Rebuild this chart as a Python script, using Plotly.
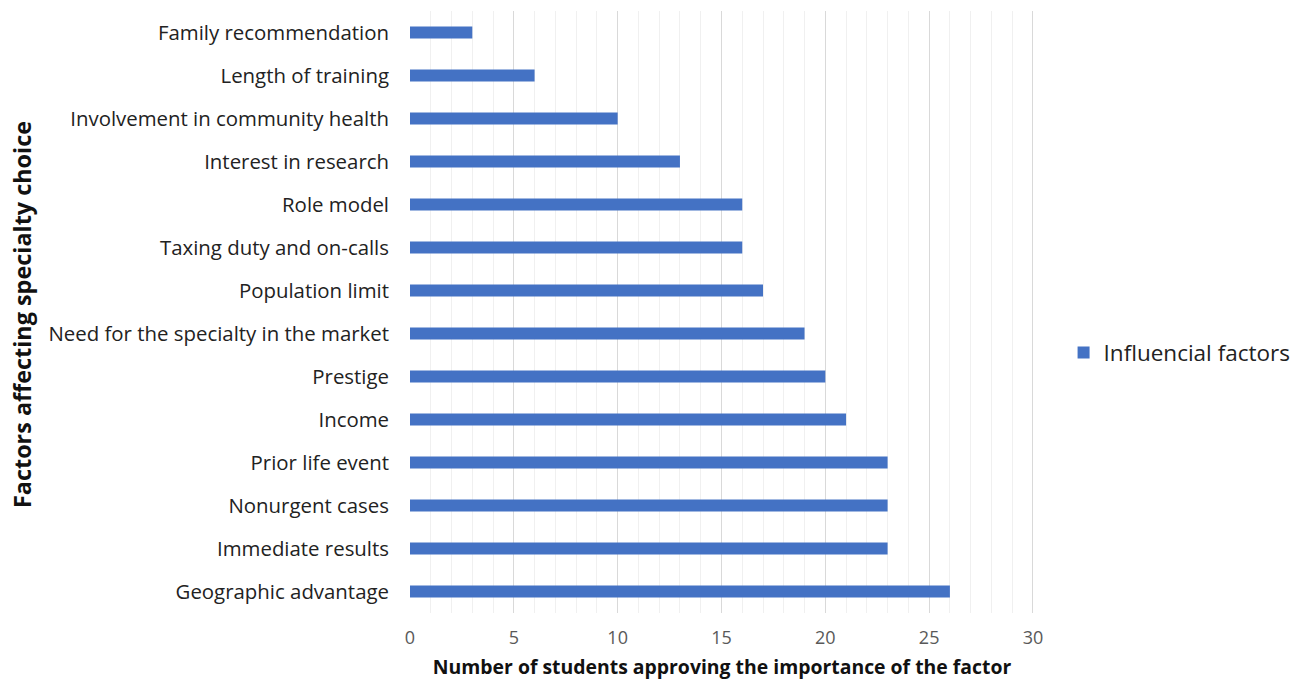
import plotly.graph_objects as go

factors = [
    "Family recommendation",
    "Length of training",
    "Involvement in community health",
    "Interest in research",
    "Role model",
    "Taxing duty and on-calls",
    "Population limit",
    "Need for the specialty in the market",
    "Prestige",
    "Income",
    "Prior life event",
    "Nonurgent cases",
    "Immediate results",
    "Geographic advantage",
]
counts = [3, 6, 10, 13, 16, 16, 17, 19, 20, 21, 23, 23, 23, 26]
series_name = "Influencial factors"
x_ticks = [0, 5, 10, 15, 20, 25, 30]

font_family = "Open Sans, Lato, sans-serif"

fig = go.Figure()
fig.add_trace(go.Bar(
    y=factors,
    x=counts,
    orientation="h",
    name=series_name,
    marker=dict(color="#4472C4", line=dict(width=0)),
    width=0.28,
    showlegend=True,
))

fig.update_layout(
    width=1300,
    height=685,
    paper_bgcolor="white",
    plot_bgcolor="white",
    margin=dict(l=410, r=266, t=11, b=72, autoexpand=False),
    font=dict(family=font_family, color="#222222"),
    showlegend=True,
    legend=dict(
        x=1.0474, xanchor="left", y=0.432, yanchor="middle",
        font=dict(size=22.5, color="#222222", family=font_family),
        itemsizing="constant",
        itemwidth=30,
        bgcolor="rgba(0,0,0,0)",
    ),
    xaxis=dict(
        range=[0, 30.05],
        tickvals=x_ticks,
        ticktext=[str(v) for v in x_ticks],
        showgrid=True,
        gridcolor="#d9d9d9",
        gridwidth=1,
        zeroline=False,
        showline=False,
        ticks="",
        ticklabelstandoff=12,
        tickfont=dict(size=18, color="#595959", family=font_family),
        minor=dict(dtick=1, tick0=0, showgrid=True, gridcolor="#f0f0f0", gridwidth=1),
        title=dict(
            text="<b>Number of students approving the importance of the factor</b>",
            font=dict(size=19.4, color="#111111", family=font_family),
            standoff=12,
        ),
        automargin=False,
    ),
    yaxis=dict(
        categoryorder="array",
        categoryarray=list(reversed(factors)),
        showgrid=False,
        zeroline=False,
        showline=False,
        ticks="",
        ticklabelstandoff=20,
        tickfont=dict(size=20.4, color="#222222", family=font_family),
        automargin=False,
    ),
    annotations=[
        dict(
            text="<b>Factors affecting specialty choice</b>",
            textangle=-90,
            xref="paper", yref="paper",
            x=(22 - 410) / 624, y=0.495,
            xanchor="center", yanchor="middle",
            showarrow=False,
            font=dict(size=23.4, color="#111111", family=font_family),
        )
    ],
)

fig.write_html("out.html")
